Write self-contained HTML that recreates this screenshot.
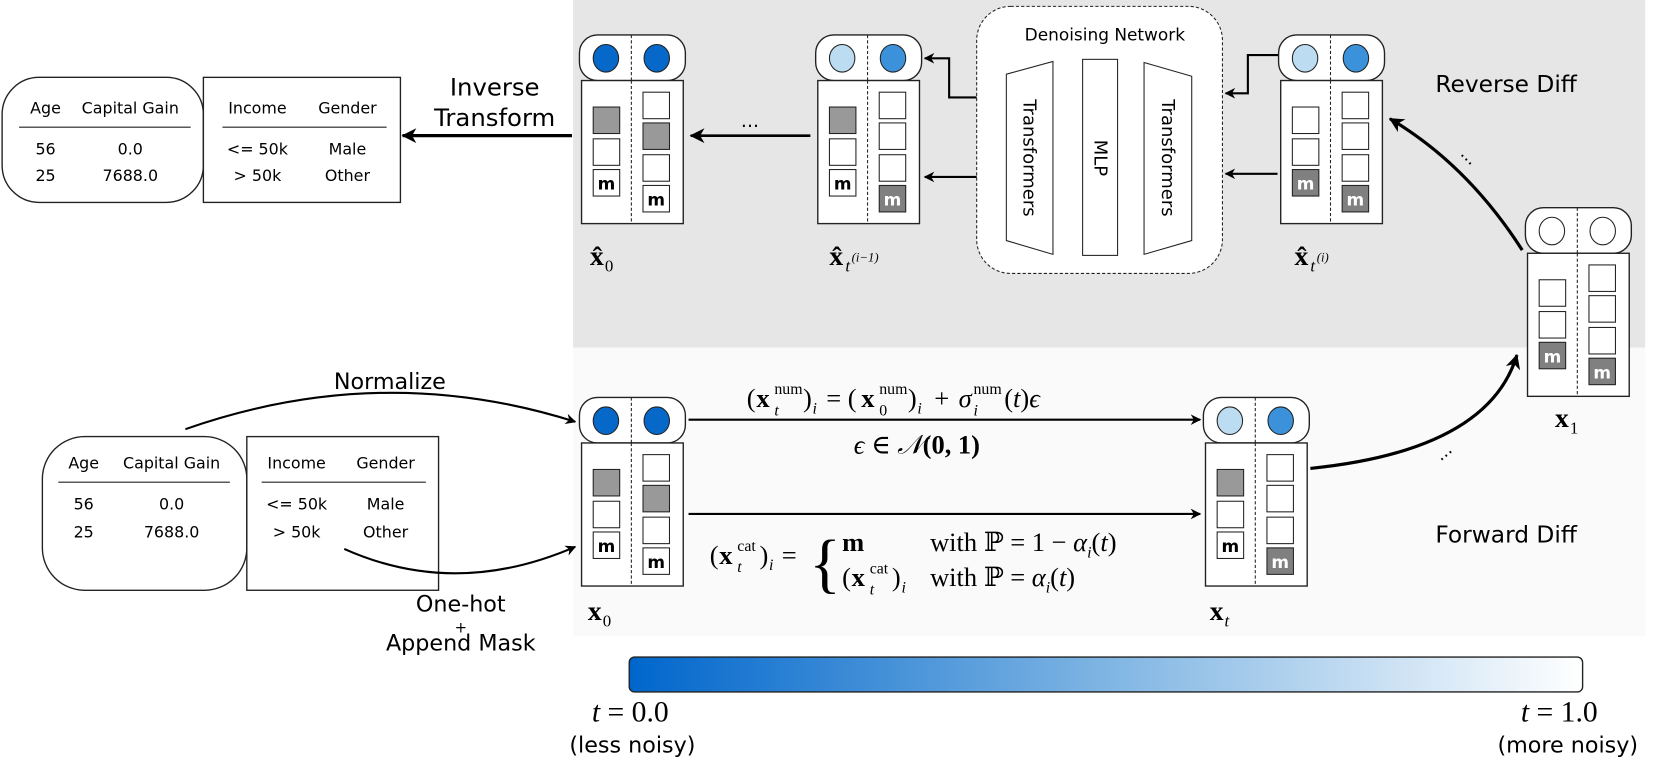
<!DOCTYPE html>
<html><head><meta charset="utf-8"><style>
html,body{margin:0;padding:0;background:#fff;}
svg{display:block}
.h{font-family:"DejaVu Sans","Liberation Sans",sans-serif;}
.s{font-family:"Liberation Serif","DejaVu Serif",serif;}
</style></head><body>
<svg width="1661" height="763" viewBox="0 0 1568 720" preserveAspectRatio="none" xmlns="http://www.w3.org/2000/svg">
<defs>
<marker id="ar" markerWidth="10" markerHeight="10" refX="9" refY="5" orient="auto" markerUnits="userSpaceOnUse"><path d="M0,0 L10,5 L0,10 L3,5 z" fill="#000"/></marker>
<marker id="ar2" markerWidth="14" markerHeight="14" refX="13" refY="7" orient="auto" markerUnits="userSpaceOnUse"><path d="M0,0 L14,7 L0,14 L4,7 z" fill="#000"/></marker>
<linearGradient id="g" x1="0" x2="1"><stop offset="0" stop-color="#0066cc"/><stop offset="0.5" stop-color="#7fb5e3"/><stop offset="1" stop-color="#ffffff"/></linearGradient>
<g id="cap"><rect x="0" y="0" width="100" height="43" rx="17" fill="#fff" stroke="#222" stroke-width="1.3"/><line x1="49" y1="0" x2="49" y2="43" stroke="#222" stroke-dasharray="3,2"/></g>
<g id="body"><rect x="2" y="43" width="96" height="135" fill="#fff" stroke="#222" stroke-width="1.3"/><line x1="49" y1="43" x2="49" y2="178" stroke="#222" stroke-dasharray="3,2"/></g>
</defs>

<rect x="541" y="0" width="1012" height="328" fill="#e6e6e6"/>
<rect x="541" y="328" width="1012" height="272" fill="#fafafa"/>

<g class="h" font-size="15" text-anchor="middle">
<rect x="2" y="73" width="190" height="118" rx="35" fill="#fff" stroke="#222" stroke-width="1.3"/>
<rect x="192" y="73" width="186" height="118" fill="#fff" stroke="#222" stroke-width="1.3"/>
<text x="43" y="107">Age</text><text x="123" y="107">Capital Gain</text>
<line x1="18" y1="120" x2="180" y2="120" stroke="#222"/>
<text x="43" y="146">56</text><text x="123" y="146">0.0</text>
<text x="43" y="171">25</text><text x="123" y="171">7688.0</text>
<text x="243" y="107">Income</text><text x="328" y="107">Gender</text>
<line x1="210" y1="120" x2="365" y2="120" stroke="#222"/>
<text x="243" y="146">&lt;= 50k</text><text x="328" y="146">Male</text>
<text x="243" y="171">&gt; 50k</text><text x="328" y="171">Other</text>
</g>
<g class="h" font-size="15" text-anchor="middle">
<rect x="40" y="412" width="193" height="145" rx="40" fill="#fff" stroke="#222" stroke-width="1.3"/>
<rect x="233" y="412" width="181" height="145" fill="#fff" stroke="#222" stroke-width="1.3"/>
<text x="79" y="442">Age</text><text x="162" y="442">Capital Gain</text>
<line x1="55" y1="455" x2="217" y2="455" stroke="#222"/>
<text x="79" y="481">56</text><text x="162" y="481">0.0</text>
<text x="79" y="507">25</text><text x="162" y="507">7688.0</text>
<text x="280" y="442">Income</text><text x="364" y="442">Gender</text>
<line x1="247" y1="455" x2="402" y2="455" stroke="#222"/>
<text x="280" y="481">&lt;= 50k</text><text x="364" y="481">Male</text>
<text x="280" y="507">&gt; 50k</text><text x="364" y="507">Other</text>
</g>

<g class="h" font-size="23" text-anchor="middle"><text x="467" y="90">Inverse</text><text x="467" y="119">Transform</text></g>
<line x1="540" y1="128" x2="380" y2="128" stroke="#000" stroke-width="3" marker-end="url(#ar2)"/>

<path d="M175,405 Q360,340 543,398" fill="none" stroke="#000" stroke-width="2" marker-end="url(#ar)"/>
<path d="M325,518 Q430,565 543,516" fill="none" stroke="#000" stroke-width="2" marker-end="url(#ar)"/>
<g class="h" font-size="21" text-anchor="middle"><text x="368" y="367">Normalize</text><text x="435" y="577">One-hot</text><text x="435" y="597" font-size="14">+</text><text x="435" y="614">Append Mask</text></g>

<rect x="922" y="6" width="232" height="252" rx="32" fill="#fff" stroke="#222" stroke-dasharray="3,2"/>
<text class="h" x="1043" y="38" font-size="16" text-anchor="middle">Denoising Network</text>
<polygon points="950,70 994,58 994,240 950,227" fill="#fff" stroke="#222"/>
<rect x="1022" y="56" width="33" height="185" fill="#fff" stroke="#222"/>
<polygon points="1080,59 1125,72 1125,227 1080,240" fill="#fff" stroke="#222"/>
<g class="h" font-size="17" text-anchor="middle">
<text transform="translate(966,149) rotate(90)">Transformers</text>
<text transform="translate(1033,149) rotate(90)">MLP</text>
<text transform="translate(1097,149) rotate(90)">Transformers</text>
</g>

<polyline points="1207,52 1178,52 1178,88 1157,88" fill="none" stroke="#000" stroke-width="2" marker-end="url(#ar)"/>
<line x1="1206" y1="164" x2="1157" y2="164" stroke="#000" stroke-width="2" marker-end="url(#ar)"/>
<polyline points="922,92 896,92 896,55 873,55" fill="none" stroke="#000" stroke-width="2" marker-end="url(#ar)"/>
<line x1="922" y1="167" x2="873" y2="167" stroke="#000" stroke-width="2" marker-end="url(#ar)"/>
<line x1="765" y1="128" x2="652" y2="128" stroke="#000" stroke-width="2.5" marker-end="url(#ar2)"/>
<text class="h" x="708" y="120" font-size="18" text-anchor="middle">...</text>

<path d="M1437,236 Q1385,155 1312,112" fill="none" stroke="#000" stroke-width="3" marker-end="url(#ar2)"/>
<path d="M1237,442 Q1405,425 1432,335" fill="none" stroke="#000" stroke-width="3" marker-end="url(#ar2)"/>
<text class="h" x="1378" y="150" font-size="16" transform="rotate(45 1383 148)">...</text>
<text class="h" x="1357" y="433" font-size="16" transform="rotate(-40 1362 430)">...</text>
<g class="h" font-size="22"><text x="1355" y="87">Reverse Diff</text><text x="1355" y="512">Forward Diff</text></g>

<line x1="650" y1="396" x2="1133" y2="396" stroke="#000" stroke-width="2" marker-end="url(#ar)"/>
<line x1="650" y1="485" x2="1133" y2="485" stroke="#000" stroke-width="2" marker-end="url(#ar)"/>
<g class="s" font-size="25">
<text x="705" y="384">(</text><text x="714" y="384" font-weight="bold">x</text>
<text x="731" y="372" font-size="15">num</text><text x="731" y="392" font-size="15" font-style="italic">t</text>
<text x="758" y="384">)</text><text x="767" y="390" font-size="15" font-style="italic">i</text>
<text x="780" y="384">= (</text><text x="813" y="384" font-weight="bold">x</text>
<text x="830" y="372" font-size="15">num</text><text x="830" y="392" font-size="15">0</text>
<text x="857" y="384">)</text><text x="866" y="390" font-size="15" font-style="italic">i</text>
<text x="882" y="384">+</text><text x="905" y="384" font-style="italic">σ</text>
<text x="919" y="372" font-size="15">num</text><text x="919" y="392" font-size="15" font-style="italic">i</text>
<text x="948" y="384">(<tspan font-style="italic">t</tspan>)<tspan font-style="italic">ϵ</tspan></text>
<text x="806" y="428"><tspan font-style="italic">ϵ</tspan> ∈ <tspan font-style="italic">𝒩</tspan><tspan font-weight="bold">(0, 1)</tspan></text>
<text x="670" y="532">(</text><text x="679" y="532" font-weight="bold">x</text>
<text x="696" y="520" font-size="15">cat</text><text x="696" y="540" font-size="15" font-style="italic">t</text>
<text x="717" y="532">)</text><text x="726" y="538" font-size="15" font-style="italic">i</text>
<text x="738" y="532">=</text>
<text x="764" y="552" font-size="62">{</text>
<text x="795" y="520" font-weight="bold">m</text>
<text x="878" y="520">with ℙ = 1 − <tspan font-style="italic">α</tspan><tspan font-size="15" font-style="italic" dy="6">i</tspan><tspan dy="-6">(</tspan><tspan font-style="italic">t</tspan>)</text>
<text x="795" y="553">(</text><text x="804" y="553" font-weight="bold">x</text>
<text x="821" y="541" font-size="15">cat</text><text x="821" y="561" font-size="15" font-style="italic">t</text>
<text x="842" y="553">)</text><text x="851" y="559" font-size="15" font-style="italic">i</text>
<text x="878" y="553">with ℙ = <tspan font-style="italic">α</tspan><tspan font-size="15" font-style="italic" dy="6">i</tspan><tspan dy="-6">(</tspan><tspan font-style="italic">t</tspan>)</text>
</g>

<g transform="translate(547,33)">
<use href="#cap"/><ellipse cx="25" cy="22" rx="12" ry="13" fill="#0668c8" stroke="#222"/><ellipse cx="73" cy="22" rx="12" ry="13" fill="#0668c8" stroke="#222"/>
<use href="#body"/>
<rect x="13" y="68" width="25" height="25" fill="#999" stroke="#222"/><rect x="13" y="98" width="25" height="25" fill="#fff" stroke="#222"/><rect x="13" y="127" width="25" height="25" fill="#fff" stroke="#222"/>
<rect x="60" y="54" width="25" height="25" fill="#fff" stroke="#222"/><rect x="60" y="83" width="25" height="25" fill="#999" stroke="#222"/><rect x="60" y="113" width="25" height="25" fill="#fff" stroke="#222"/><rect x="60" y="142" width="25" height="25" fill="#fff" stroke="#222"/>
<g class="h" font-weight="bold" font-size="16" text-anchor="middle"><text x="25.5" y="146">m</text><text x="72.5" y="161">m</text></g>
</g>
<g transform="translate(770,33)">
<use href="#cap"/><ellipse cx="25" cy="22" rx="12" ry="13" fill="#bcdcf2" stroke="#222"/><ellipse cx="73" cy="22" rx="12" ry="13" fill="#3c92da" stroke="#222"/>
<use href="#body"/>
<rect x="13" y="68" width="25" height="25" fill="#999" stroke="#222"/><rect x="13" y="98" width="25" height="25" fill="#fff" stroke="#222"/><rect x="13" y="127" width="25" height="25" fill="#fff" stroke="#222"/>
<rect x="60" y="54" width="25" height="25" fill="#fff" stroke="#222"/><rect x="60" y="83" width="25" height="25" fill="#fff" stroke="#222"/><rect x="60" y="113" width="25" height="25" fill="#fff" stroke="#222"/><rect x="60" y="142" width="25" height="25" fill="#808080" stroke="#222"/>
<g class="h" font-weight="bold" font-size="16" text-anchor="middle"><text x="25.5" y="146">m</text><text x="72.5" y="161" fill="#fff">m</text></g>
</g>
<g transform="translate(1207,33)">
<use href="#cap"/><ellipse cx="25" cy="22" rx="12" ry="13" fill="#bcdcf2" stroke="#222"/><ellipse cx="73" cy="22" rx="12" ry="13" fill="#3c92da" stroke="#222"/>
<use href="#body"/>
<rect x="13" y="68" width="25" height="25" fill="#fff" stroke="#222"/><rect x="13" y="98" width="25" height="25" fill="#fff" stroke="#222"/><rect x="13" y="127" width="25" height="25" fill="#808080" stroke="#222"/>
<rect x="60" y="54" width="25" height="25" fill="#fff" stroke="#222"/><rect x="60" y="83" width="25" height="25" fill="#fff" stroke="#222"/><rect x="60" y="113" width="25" height="25" fill="#fff" stroke="#222"/><rect x="60" y="142" width="25" height="25" fill="#808080" stroke="#222"/>
<g class="h" font-weight="bold" font-size="16" text-anchor="middle" fill="#fff"><text x="25.5" y="146">m</text><text x="72.5" y="161">m</text></g>
</g>
<g transform="translate(1440,196)">
<use href="#cap"/><ellipse cx="25" cy="22" rx="12" ry="13" fill="#fff" stroke="#222"/><ellipse cx="73" cy="22" rx="12" ry="13" fill="#fff" stroke="#222"/>
<use href="#body"/>
<rect x="13" y="68" width="25" height="25" fill="#fff" stroke="#222"/><rect x="13" y="98" width="25" height="25" fill="#fff" stroke="#222"/><rect x="13" y="127" width="25" height="25" fill="#808080" stroke="#222"/>
<rect x="60" y="54" width="25" height="25" fill="#fff" stroke="#222"/><rect x="60" y="83" width="25" height="25" fill="#fff" stroke="#222"/><rect x="60" y="113" width="25" height="25" fill="#fff" stroke="#222"/><rect x="60" y="142" width="25" height="25" fill="#808080" stroke="#222"/>
<g class="h" font-weight="bold" font-size="16" text-anchor="middle" fill="#fff"><text x="25.5" y="146">m</text><text x="72.5" y="161">m</text></g>
</g>
<g transform="translate(547,375)">
<use href="#cap"/><ellipse cx="25" cy="22" rx="12" ry="13" fill="#0668c8" stroke="#222"/><ellipse cx="73" cy="22" rx="12" ry="13" fill="#0668c8" stroke="#222"/>
<use href="#body"/>
<rect x="13" y="68" width="25" height="25" fill="#999" stroke="#222"/><rect x="13" y="98" width="25" height="25" fill="#fff" stroke="#222"/><rect x="13" y="127" width="25" height="25" fill="#fff" stroke="#222"/>
<rect x="60" y="54" width="25" height="25" fill="#fff" stroke="#222"/><rect x="60" y="83" width="25" height="25" fill="#999" stroke="#222"/><rect x="60" y="113" width="25" height="25" fill="#fff" stroke="#222"/><rect x="60" y="142" width="25" height="25" fill="#fff" stroke="#222"/>
<g class="h" font-weight="bold" font-size="16" text-anchor="middle"><text x="25.5" y="146">m</text><text x="72.5" y="161">m</text></g>
</g>
<g transform="translate(1136,375)">
<use href="#cap"/><ellipse cx="25" cy="22" rx="12" ry="13" fill="#bcdcf2" stroke="#222"/><ellipse cx="73" cy="22" rx="12" ry="13" fill="#3c92da" stroke="#222"/>
<use href="#body"/>
<rect x="13" y="68" width="25" height="25" fill="#999" stroke="#222"/><rect x="13" y="98" width="25" height="25" fill="#fff" stroke="#222"/><rect x="13" y="127" width="25" height="25" fill="#fff" stroke="#222"/>
<rect x="60" y="54" width="25" height="25" fill="#fff" stroke="#222"/><rect x="60" y="83" width="25" height="25" fill="#fff" stroke="#222"/><rect x="60" y="113" width="25" height="25" fill="#fff" stroke="#222"/><rect x="60" y="142" width="25" height="25" fill="#808080" stroke="#222"/>
<g class="h" font-weight="bold" font-size="16" text-anchor="middle"><text x="25.5" y="146">m</text><text x="72.5" y="161" fill="#fff">m</text></g>
</g>

<g class="s" font-size="26" font-weight="bold">
<text x="557" y="250">x̂</text><text x="571" y="256" font-size="16" font-weight="normal">0</text>
<text x="783" y="250">x̂</text><text x="798" y="256" font-size="16" font-weight="normal" font-style="italic">t</text><text x="804" y="247" font-size="12" font-weight="normal" font-style="italic">(i−1)</text>
<text x="1222" y="250">x̂</text><text x="1237" y="256" font-size="16" font-weight="normal" font-style="italic">t</text><text x="1243" y="247" font-size="12" font-weight="normal" font-style="italic">(i)</text>
<text x="1468" y="403">x</text><text x="1482" y="409" font-size="16" font-weight="normal">1</text>
<text x="555" y="585">x</text><text x="569" y="591" font-size="16" font-weight="normal">0</text>
<text x="1142" y="585">x</text><text x="1156" y="591" font-size="16" font-weight="normal" font-style="italic">t</text>
</g>

<rect x="594" y="620" width="900" height="33" rx="5" fill="url(#g)" stroke="#222" stroke-width="1.3"/>
<g class="s" font-size="28" text-anchor="middle"><text x="595" y="681"><tspan font-style="italic">t</tspan> = 0.0</text><text x="1472" y="681"><tspan font-style="italic">t</tspan> = 1.0</text></g>
<g class="h" font-size="21" text-anchor="middle"><text x="597" y="710">(less noisy)</text><text x="1480" y="710">(more noisy)</text></g>
</svg>
</body></html>
